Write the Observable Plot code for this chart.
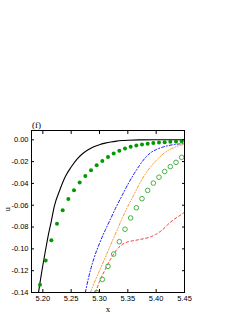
<!DOCTYPE html>
<html><head><meta charset="utf-8">
<script src="https://cdn.jsdelivr.net/npm/d3@7"></script>
<script src="https://cdn.jsdelivr.net/npm/@observablehq/plot@0.6"></script>
<style>body{margin:0;background:#fff}</style>
</head><body><div id="chart"></div>
<script>
const xTicks = [5.20, 5.25, 5.30, 5.35, 5.40, 5.45];
const yTicks = [0.00, -0.02, -0.04, -0.06, -0.08, -0.10, -0.12, -0.14];

const blackX = [5.1924,5.195,5.20,5.205,5.21,5.215,5.22,5.23,5.24,5.25,5.26,5.27,5.28,5.29,5.30,5.31,5.32,5.33,5.34,5.35,5.37,5.40,5.45];
const blackY = [-0.140,-0.131,-0.115,-0.1005,-0.0865,-0.0745,-0.0615,-0.046,-0.0335,-0.025,-0.018,-0.0128,-0.0092,-0.0065,-0.0045,-0.0031,-0.0020,-0.0012,-0.0007,-0.0004,-0.0001,0.0,0.0];

const blueX = [5.275,5.28,5.29,5.30,5.31,5.32,5.33,5.34,5.35,5.36,5.37,5.38,5.39,5.40,5.41,5.42,5.43,5.45];
const blueY = [-0.140,-0.128,-0.109,-0.095,-0.083,-0.072,-0.061,-0.051,-0.041,-0.032,-0.024,-0.017,-0.012,-0.009,-0.007,-0.0055,-0.0045,-0.0035];

const orangeX = [5.284,5.29,5.30,5.31,5.32,5.33,5.34,5.35,5.36,5.37,5.38,5.39,5.40,5.41,5.42,5.43,5.44,5.45];
const orangeY = [-0.140,-0.132,-0.120,-0.108,-0.096,-0.084,-0.072,-0.061,-0.051,-0.041,-0.032,-0.025,-0.019,-0.014,-0.010,-0.0075,-0.0055,-0.004];

const redX = [5.293,5.30,5.31,5.32,5.33,5.34,5.35,5.36,5.37,5.38,5.39,5.40,5.41,5.42,5.43,5.44,5.45];
const redY = [-0.140,-0.130,-0.119,-0.109,-0.101,-0.096,-0.0935,-0.0925,-0.0915,-0.0905,-0.089,-0.0865,-0.083,-0.078,-0.0735,-0.070,-0.0665];

const filledX = [5.195,5.205,5.215,5.225,5.235,5.245,5.255,5.265,5.275,5.285,5.295,5.305,5.315,5.325,5.335,5.345,5.355,5.365,5.375,5.385,5.395,5.405,5.415,5.425,5.435,5.445];
const filledY = [-0.1328,-0.1106,-0.0921,-0.0769,-0.0647,-0.0544,-0.0462,-0.0392,-0.0331,-0.0280,-0.0234,-0.0195,-0.0158,-0.0126,-0.0100,-0.0080,-0.0064,-0.0052,-0.0043,-0.0036,-0.0030,-0.0026,-0.0022,-0.0019,-0.0016,-0.0014];

const openX = [5.295,5.305,5.315,5.325,5.335,5.345,5.355,5.365,5.375,5.385,5.395,5.405,5.415,5.425,5.435,5.445];
const openY = [-0.140,-0.128,-0.116,-0.1048,-0.0934,-0.082,-0.0717,-0.0623,-0.054,-0.0464,-0.0397,-0.0343,-0.0291,-0.0246,-0.0207,-0.0161];

const zip = (xs, ys) => xs.map((x, i) => ({x, y: ys[i]}));
const fmt = d => d.toFixed(2);

const chart = Plot.plot({
  width: 244,
  height: 316,
  marginLeft: 31,
  marginRight: 60,
  marginTop: 130,
  marginBottom: 24,
  style: {fontFamily: "'Liberation Sans', Arial, sans-serif", fontSize: "7.5px", background: "#fff", color: "#000"},
  x: {domain: [5.18, 5.45], label: null},
  y: {domain: [-0.14, 0.0085], label: null},
  marks: [
    Plot.line(zip(blackX, blackY), {x: "x", y: "y", stroke: "#000", strokeWidth: 1.1, curve: "monotone-x", clip: true}),
    Plot.line(zip(blueX, blueY), {x: "x", y: "y", stroke: "#0000ff", strokeWidth: 0.9, strokeDasharray: "3,2,1,2", curve: "monotone-x", clip: true}),
    Plot.line(zip(orangeX, orangeY), {x: "x", y: "y", stroke: "#ff8c1a", strokeWidth: 0.9, strokeDasharray: "3,1.8,1,1.8,1,1.8", curve: "monotone-x", clip: true}),
    Plot.line(zip(redX, redY), {x: "x", y: "y", stroke: "#ff2020", strokeWidth: 0.9, strokeDasharray: "2.5,2.5", curve: "monotone-x", clip: true}),
    Plot.dot(zip(filledX, filledY), {x: "x", y: "y", r: 2, fill: "#009900", stroke: "none", clip: true}),
    Plot.dot(zip(openX, openY), {x: "x", y: "y", r: 2.3, fill: "none", stroke: "#33aa33", strokeWidth: 0.9, clip: true}),
    Plot.frame({stroke: "#000", strokeWidth: 1}),
    Plot.axisX(xTicks, {anchor: "bottom", tickSize: -3, tickPadding: 6, tickFormat: fmt, label: null}),
    Plot.axisX(xTicks, {anchor: "top", tickSize: -3, tickFormat: () => "", label: null}),
    Plot.axisY(yTicks, {anchor: "left", tickSize: -3, tickPadding: 6, tickFormat: fmt, label: null}),
    Plot.axisY(yTicks, {anchor: "right", tickSize: -3, tickFormat: () => "", label: null}),
    Plot.text(["(f)"], {frameAnchor: "top-left", text: d => d, dx: 0.5, dy: -9, textAnchor: "start", fontFamily: "'Liberation Serif', serif", fontSize: 9}),
    Plot.text(["x"], {frameAnchor: "bottom", text: d => d, dy: 19, fontFamily: "'Liberation Serif', serif", fontSize: 9}),
    Plot.text(["u"], {frameAnchor: "left", text: d => d, dx: -24, rotate: -90, fontFamily: "'Liberation Serif', serif", fontSize: 9})
  ]
});
document.getElementById("chart").appendChild(chart);
</script>
</body></html>
